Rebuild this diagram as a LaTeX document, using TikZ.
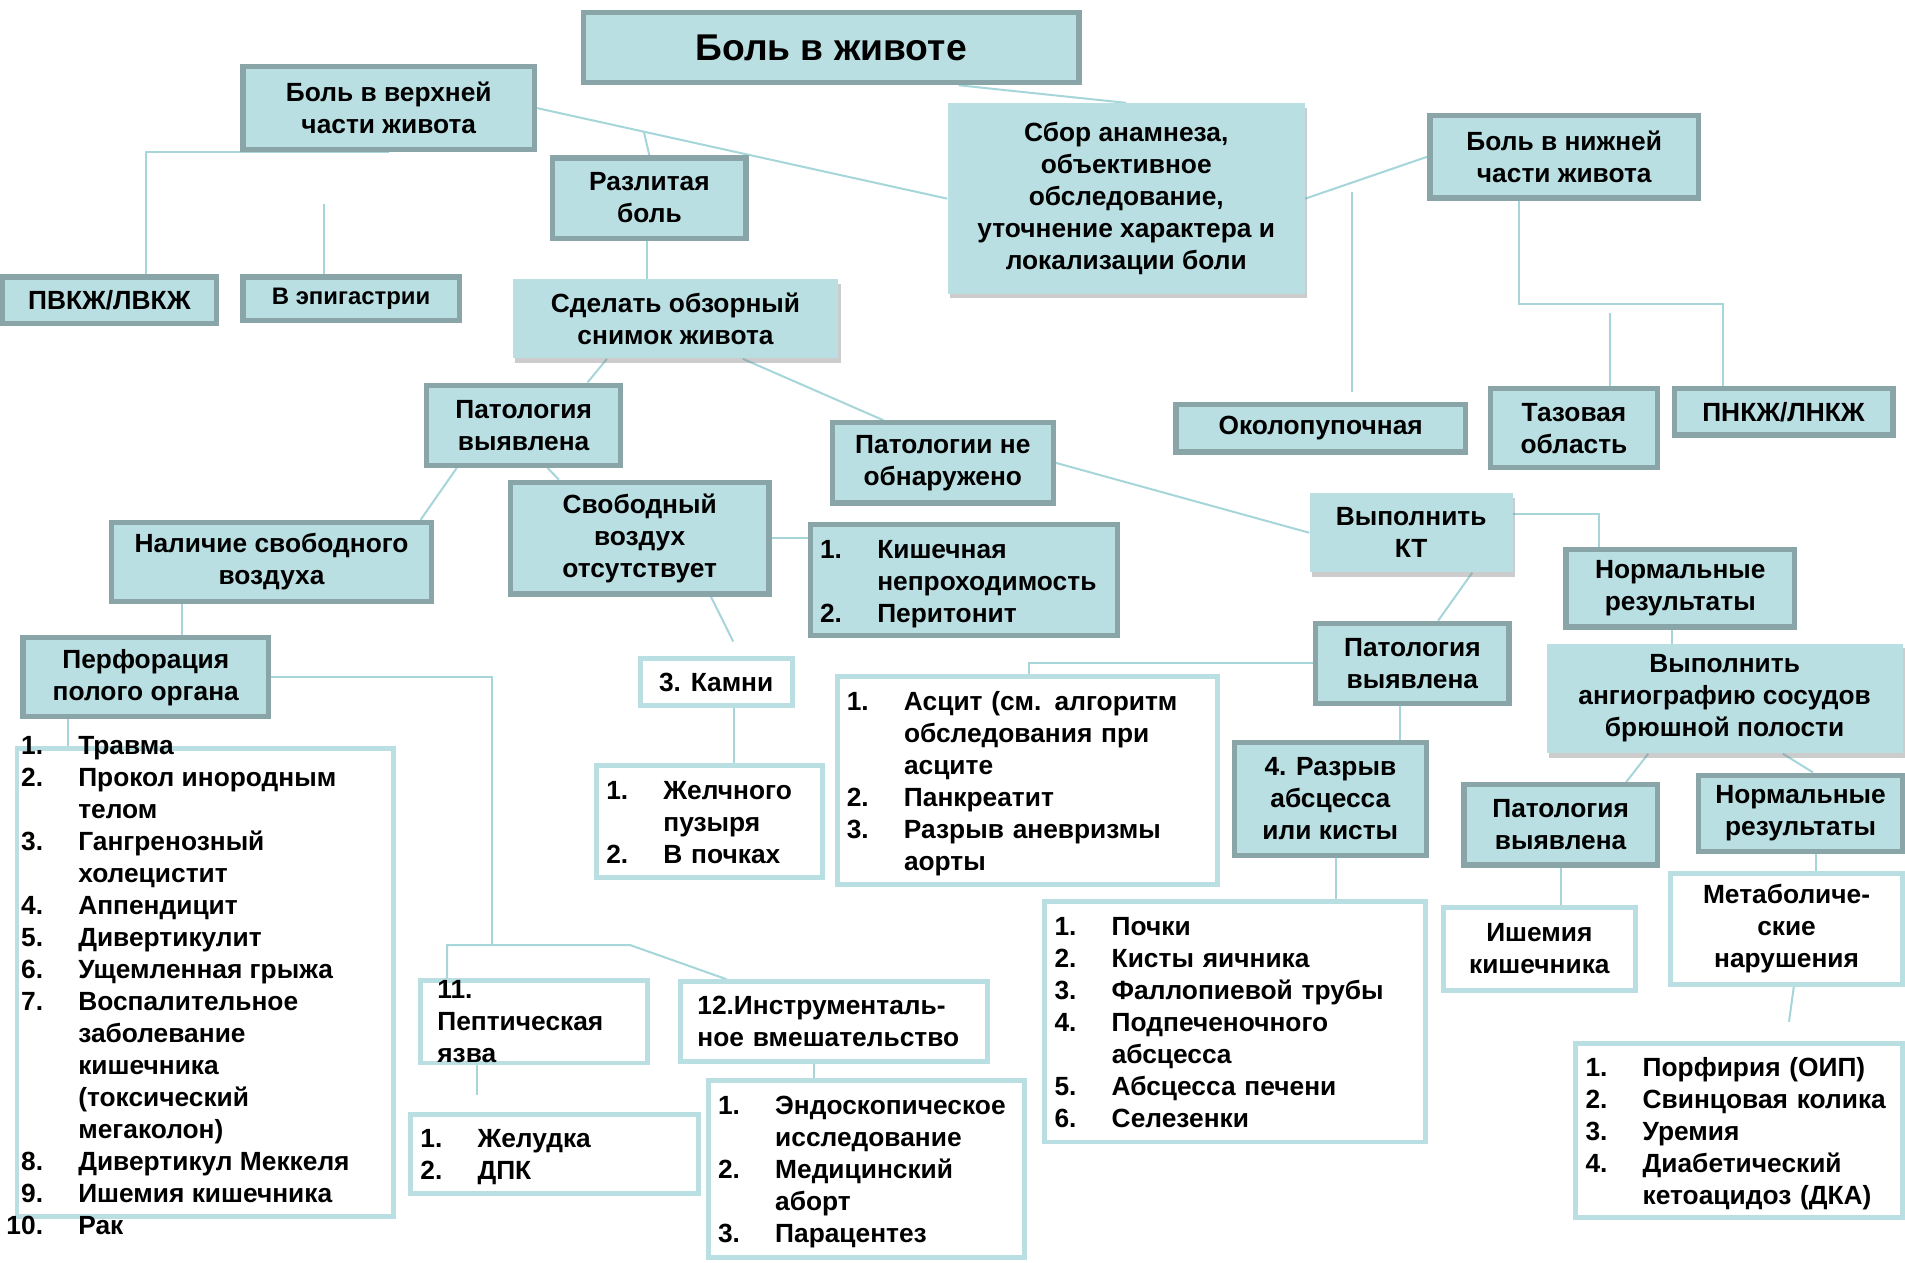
\documentclass[tikz,border=0pt]{standalone}
\usepackage{fontspec}
\setmainfont{Liberation Sans}
\usetikzlibrary{calc,shadows}
\pgfdeclarelayer{background layer}
\pgfsetlayers{background layer,main}
\definecolor{tealfill}{HTML}{BADFE3}
\definecolor{tealedge}{HTML}{8AA5A8}
\definecolor{tealline}{HTML}{A6D6DA}
\newcommand{\nlist}[1]{\raisebox{-1.8pt}[\height][\depth]{\begin{tabular}{@{}r@{\hspace{17.4pt}}l@{}}#1\end{tabular}}}

\begin{document}
\begin{tikzpicture}
[x=0.6pt,y=-0.6pt,align=center,inner sep=2pt,
 font=\fontsize{13}{15.8}\selectfont\bfseries,
 area/.style n args={4}{at={({(#1+#3)/2},{(#2+#4)/2})},
   minimum width={(#3-#1)*0.6pt-2.4pt},minimum height={(#4-#2)*0.6pt-2.4pt}}]
\tikzstyle{plain}=[fill=tealfill,draw=tealedge,line width=2.6pt]
\tikzstyle{soft}=[fill=tealfill,drop shadow={opacity=0.4,shadow xshift=1.2pt,shadow yshift=-2.2pt}]
\tikzstyle{blank}=[fill=white,draw=tealfill,line width=2.4pt]
\tikzstyle{items}=[align=left,inner xsep=4.8pt]
\tikzstyle{link}=[draw=tealline,line width=1pt]

\useasboundingbox (0,0) rectangle (1568,1039);

\draw node [plain,area={478}{8}{890}{70},font=\fontsize{18.4}{22}\selectfont\bfseries] (pain) {Боль в животе};
\draw node [plain,area={198}{53}{442}{125}] (upper) {Боль в верхней\\части живота};
\draw node [plain,area={453}{128}{616}{198}] (razl) {Разлитая\\боль};
\draw node [soft,area={778}{83}{1076}{244}] (sbor) {Сбор анамнеза,\\объективное\\обследование,\\уточнение характера и\\локализации боли};
\draw node [plain,area={1175}{93}{1400}{165}] (lower) {Боль в нижней\\части живота};
\draw node [plain,area={0}{226}{180}{268}] (pvkzh) {ПВКЖ/ЛВКЖ};
\draw node [plain,area={198}{226}{380}{266},font=\fontsize{11.8}{14}\selectfont\bfseries] (epi) {В эпигастрии};
\draw node [soft,area={420}{228}{692}{297}] (snimok) {Сделать обзорный\\снимок живота};
\draw node [plain,area={966}{331}{1208}{374}] (umb) {Околопупочная};
\draw node [plain,area={1225}{318}{1366}{387}] (pelv) {Тазовая\\область};
\draw node [plain,area={1376}{318}{1560}{360}] (pnkzh) {ПНКЖ/ЛНКЖ};
\draw node [plain,area={349}{315}{513}{385}] (patA) {Патология\\выявлена};
\draw node [plain,area={683}{346}{869}{416}] (notfound) {Патологии не\\обнаружено};
\draw node [plain,area={90}{428}{357}{497}] (freeair) {Наличие свободного\\воздуха};
\draw node [plain,area={418}{395}{635}{491}] (noair) {Свободный\\воздух\\отсутствует};
\draw node [plain,items,area={665}{430}{922}{525},text width=142.2pt] (obstr) {\nlist{1.&Кишечная\\&непроходимость\\2.&Перитонит}};
\draw node [soft,area={1076}{404}{1247}{473}] (ct) {Выполнить\\КТ};
\draw node [plain,area={1287}{450}{1479}{518}] (normA) {Нормальные\\результаты};
\draw node [plain,area={17}{523}{223}{592}] (perf) {Перфорация\\полого органа};
\draw node [blank,area={525}{540}{654}{583}] (stones) {3. Камни};
\draw node [plain,area={1081}{511}{1244}{581}] (patB) {Патология\\выявлена};
\draw node [soft,area={1271}{528}{1568}{622}] (angio) {Выполнить\\ангиографию сосудов\\брюшной полости};
\draw node [blank,items,area={687}{555}{1004}{730},text width=178.2pt] (ascit) {\nlist{1.&Асцит (см. алгоритм\\&обследования при\\&асците\\2.&Панкреатит\\3.&Разрыв аневризмы\\&аорты}};
\draw node [plain,area={1014}{609}{1176}{706}] (rupt) {4. Разрыв\\абсцесса\\или кисты};
\draw node [plain,area={1203}{644}{1366}{714}] (patC) {Патология\\выявлена};
\draw node [plain,area={1396}{636}{1568}{703}] (normB) {Нормальные\\результаты};
\draw node [blank,items,area={489}{628}{679}{724},text width=102pt] (gall) {\nlist{1.&Желчного\\&пузыря\\2.&В почках}};
\draw node [blank,area={12}{614}{326}{1003}] (perfbox) {};
\draw node [anchor=north west,inner sep=0pt,at={(5,599)}] (perfitems) {\nlist{1.&Травма\\2.&Прокол инородным\\&телом\\3.&Гангренозный\\&холецистит\\4.&Аппендицит\\5.&Дивертикулит\\6.&Ущемленная грыжа\\7.&Воспалительное\\&заболевание\\&кишечника\\&(токсический\\&мегаколон)\\8.&Дивертикул Меккеля\\9.&Ишемия кишечника\\10.&Рак}};
\draw node [blank,items,area={344}{806}{535}{876},text width=95.4pt,inner xsep=8.4pt,inner ysep=0pt] (ulcer) {11.\\Пептическая\\язва};
\draw node [blank,items,area={558}{806}{815}{876},text width=135pt,inner xsep=8.4pt] (instr) {12.Инструменталь-\\ное вмешательство};
\draw node [blank,items,area={336}{915}{577}{984},text width=132.6pt] (ulcerlist) {\nlist{1.&Желудка\\2.&ДПК}};
\draw node [blank,items,area={581}{887}{845}{1037},text width=146.4pt] (instrlist) {\nlist{1.&Эндоскопическое\\&исследование\\2.&Медицинский\\&аборт\\3.&Парацентез}};
\draw node [blank,items,area={858}{740}{1175}{942},text width=178.2pt] (abscess) {\nlist{1.&Почки\\2.&Кисты яичника\\3.&Фаллопиевой трубы\\4.&Подпеченочного\\&абсцесса\\5.&Абсцесса печени\\6.&Селезенки}};
\draw node [blank,area={1186}{745}{1348}{817}] (isch) {Ишемия\\кишечника};
\draw node [blank,area={1373}{717}{1568}{812}] (metab) {Метаболиче-\\ские\\нарушения};
\draw node [blank,items,area={1295}{857}{1568}{1004},text width=151.8pt] (metablist) {\nlist{1.&Порфирия (ОИП)\\2.&Свинцовая колика\\3.&Уремия\\4.&Диабетический\\&кетоацидоз (ДКА)}};

\coordinate (umbtip) at (1113,323);
\coordinate (bus) at (405,778);

\begin{pgfonlayer}{background layer}
\draw[link] ($(pain.south west)!0.755!(pain.south east)$) -- (sbor.north);
\draw[link] (upper.east) -- (sbor.west);
\draw[link] ($(upper.east)!0.26!(sbor.west)$) -- (razl.north);
\draw[link] ($(razl.south)+(-2,0)$) coordinate (r) -- (r |- snimok.north);
\draw[link] (upper.south) -| ($(pvkzh.north)+(30,0)$);
\draw[link] ($(epi.north)+(-22,0)$) -- ++(0,-58);
\draw[link] (sbor.east) -- (lower.west);
\draw[link] (umbtip) -- ++(0,-165);
\draw[link] ($(lower.south)+(-37,0)$) |- ($(pnkzh.north)+(-50,-68)$) -- ($(pnkzh.north)+(-50,0)$);
\draw[link] ($(pelv.north)+(30,0)$) -- ++(0,-60);
\draw[link] ($(snimok.south west)!0.29!(snimok.south east)$) -- ($(patA.north west)!0.82!(patA.north east)$);
\draw[link] ($(snimok.south west)!0.706!(snimok.south east)$) -- ($(notfound.north west)!0.237!(notfound.north east)$);
\draw[link] ($(patA.south west)!0.165!(patA.south east)$) -- ($(freeair.north west)!0.959!(freeair.north east)$);
\draw[link] ($(patA.south west)!0.62!(patA.south east)$) -- ($(noair.north west)!0.194!(noair.north east)$);
\draw[link] ($(perf.north west)+(133,0)$) coordinate (f) -- (f |- freeair.south);
\draw[link] ($(perf.south west)+(39,0)$) coordinate (g) -- (g |- perfbox.north);
\draw[link] (perf.east) -- (perf.east -| bus) -- (bus);
\draw[link] ($(ulcer.north west)+(24,0)$) |- (bus) -- ++(114,0) -- ($(instr.north west)+(40,0)$);
\draw[link] (noair.east) -- (noair.east -| obstr.west);
\draw[link] ($(noair.south west)!0.77!(noair.south east)$) -- ($(stones.north)+(14,-12)$);
\draw[link] ($(stones.south)+(15,0)$) coordinate (s) -- (s |- gall.north);
\draw[link] (notfound.east) -- (ct.west);
\draw[link] ($(ct.north east)!0.26!(ct.south east)$) -| ($(normA.north west)+(29,0)$);
\draw[link] ($(ct.south west)!0.8!(ct.south east)$) -- ($(patB.north west)!0.63!(patB.north east)$);
\draw[link] (patB.west) -| ($(ascit.north west)+(160,0)$);
\draw[link] ($(patB.south)+(-10,0)$) coordinate (p) -- (p |- rupt.north);
\draw[link] ($(normA.south)+(-7,0)$) coordinate (n) -- (n |- angio.north);
\draw[link] ($(angio.south west)!0.286!(angio.south east)$) -- ($(patC.north west)!0.83!(patC.north east)$);
\draw[link] ($(angio.south west)!0.663!(angio.south east)$) -- ($(normB.north west)!0.56!(normB.north east)$);
\draw[link] ($(rupt.south)+(5,0)$) coordinate (a) -- (a |- abscess.north);
\draw[link] (patC.south) -- (patC.south |- isch.north);
\draw[link] ($(normB.south)+(13,0)$) coordinate (m) -- (m |- metab.north);
\draw[link] ($(metab.south)+(6,0)$) -- ($(metablist.north)+(41,-16)$);
\draw[link] ($(ulcer.south west)+(49,0)$) -- ++(0,24);
\draw[link] ($(instr.south west)+(112,0)$) coordinate (q) -- (q |- instrlist.north);
\end{pgfonlayer}

\end{tikzpicture}
\end{document}
